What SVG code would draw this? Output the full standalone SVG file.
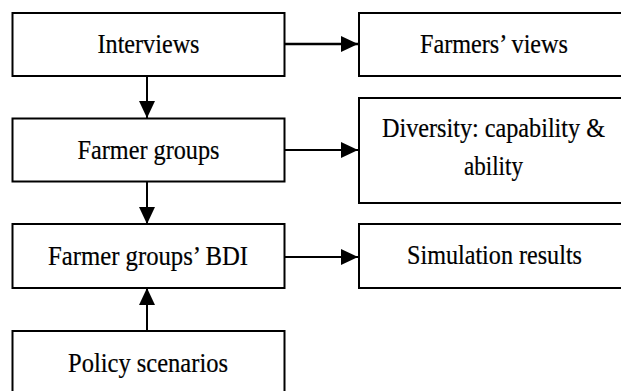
<svg xmlns="http://www.w3.org/2000/svg" width="621" height="391" viewBox="0 0 621 391">
<style>
.box{fill:#fff;stroke:#000;stroke-width:2}
.t{font-family:'Liberation Serif','Times New Roman',serif;font-size:26.5px;fill:#000;stroke:#000;stroke-width:0.2;text-anchor:middle}
.c{stroke:#000;stroke-width:2;fill:none}
</style>
<defs>
<marker id="ah" markerUnits="userSpaceOnUse" markerWidth="18" markerHeight="18" refX="17" refY="8" orient="auto">
<polygon points="0,0 17,8 0,16" fill="#000"/>
</marker>
</defs>
<rect width="621" height="391" fill="#fff"/>
<g id="interviews"><rect class="box" x="12.5" y="13" width="272" height="63"/><text class="t" x="148.5" y="53" textLength="102" lengthAdjust="spacingAndGlyphs">Interviews</text></g>
<g id="farmer-groups"><rect class="box" x="12.5" y="118.5" width="272" height="63"/><text class="t" x="148.5" y="159" textLength="142" lengthAdjust="spacingAndGlyphs">Farmer groups</text></g>
<g id="bdi"><rect class="box" x="12.5" y="224" width="272" height="64"/><text class="t" x="148" y="265" textLength="200" lengthAdjust="spacingAndGlyphs">Farmer groups’ BDI</text></g>
<g id="policy"><rect class="box" x="12.5" y="331" width="272" height="70"/><text class="t" x="148" y="372" textLength="160" lengthAdjust="spacingAndGlyphs">Policy scenarios</text></g>
<g id="views"><rect class="box" x="359" y="13" width="280" height="63"/><text class="t" x="494" y="53" textLength="148" lengthAdjust="spacingAndGlyphs">Farmers’ views</text></g>
<g id="diversity"><rect class="box" x="359" y="98" width="280" height="105"/><text class="t" x="493.5" y="137" textLength="223" lengthAdjust="spacingAndGlyphs">Diversity: capability &amp;</text><text class="t" x="493.5" y="175" textLength="59" lengthAdjust="spacingAndGlyphs">ability</text></g>
<g id="simulation"><rect class="box" x="359" y="224" width="280" height="64"/><text class="t" x="494.5" y="264" textLength="175" lengthAdjust="spacingAndGlyphs">Simulation results</text></g>
<g id="connectors">
<line class="c" x1="284" y1="44" x2="358" y2="44" marker-end="url(#ah)" style="stroke-width:2.5"/>
<line class="c" x1="284" y1="150" x2="358" y2="150" marker-end="url(#ah)"/>
<line class="c" x1="284" y1="257" x2="358" y2="257" marker-end="url(#ah)"/>
<line class="c" x1="147" y1="76" x2="147" y2="118" marker-end="url(#ah)"/>
<line class="c" x1="147" y1="182" x2="147" y2="224" marker-end="url(#ah)"/>
<line class="c" x1="147" y1="331" x2="147" y2="288" marker-end="url(#ah)"/>
</g>
</svg>
